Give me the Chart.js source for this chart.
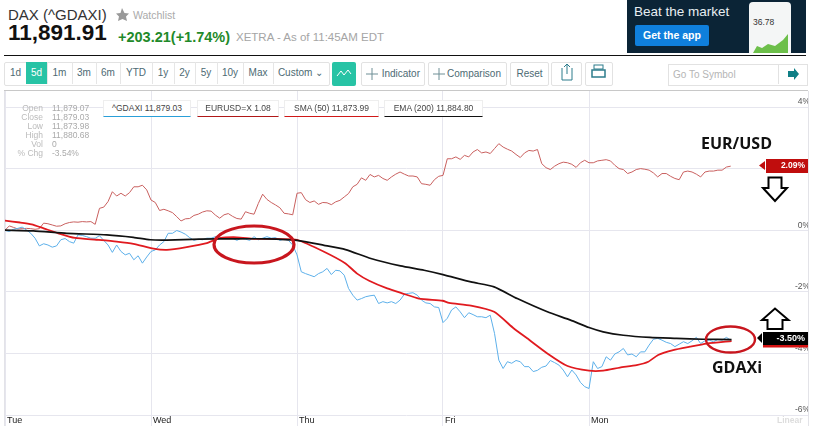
<!DOCTYPE html>
<html>
<head>
<meta charset="utf-8">
<script src="https://cdn.jsdelivr.net/npm/chart.js@4"></script>
<style>
html, body { margin: 0; padding: 0; background: #fff; overflow: hidden; }
body { width: 813px; height: 439px; position: relative; font-family: "Liberation Sans", Arial, sans-serif; }
.t { position: absolute; white-space: nowrap; line-height: 1; }
.btn { position: absolute; top: 62px; height: 22px; border: 1px solid #e2e2e2; border-radius: 2px; box-sizing: content-box;
  font-size: 10px; line-height: 22px; color: #4d6a73; text-align: center; background: #fff; }
.seg { position: absolute; top: 62px; height: 22px; border-right: 1px solid #e6e6e6; font-size: 10px; line-height: 22px; color: #4d6a73; text-align: center; }
.leg { position: absolute; top: 100px; height: 17px; background: #fff; border: 1px solid #eee; font-size: 8.5px; line-height: 15px; text-align: center; color: #444; box-sizing: border-box; }
.lab { position: absolute; width: 36px; text-align: right; left: 7px; font-size: 8.5px; color: #bbb; line-height: 9px; }
.val { position: absolute; left: 52px; font-size: 8.5px; color: #aaa; line-height: 9px; }
#plot { position: absolute; left: 5px; top: 91px; width: 803px; height: 339px; }
#overlay { position: absolute; left: 0; top: 0; pointer-events: none; }
</style>
</head>
<body>
<div class="t" style="left:8px;top:7px;font-size:15px;color:#333">DAX (^GDAXI)</div>
<div class="t" style="left:133px;top:10px;font-size:10.5px;color:#aaa">Watchlist</div>
<div class="t" style="left:8px;top:22px;font-size:22.5px;font-weight:bold;color:#111">11,891.91</div>
<div class="t" style="left:118px;top:30px;font-size:14.5px;font-weight:bold;color:#1f8a2a">+203.21(+1.74%)</div>
<div class="t" style="left:236px;top:32px;font-size:11.5px;color:#a5a5a5">XETRA - As of 11:45AM EDT</div>
<div style="position:absolute;left:4px;top:55px;width:802px;height:1px;background:#111"></div>

<div style="position:absolute;left:627px;top:0;width:179px;height:53px;background:#0b2436"></div>
<div class="t" style="left:634px;top:5px;font-size:13.5px;color:#e8eef2">Beat the market</div>
<div class="t" style="left:635px;top:25px;width:74px;height:21px;background:#0f7fdc;border-radius:2px;color:#fff;font-size:10.5px;font-weight:bold;line-height:21px;text-align:center">Get the app</div>
<div style="position:absolute;left:749px;top:2px;width:42px;height:51px;background:#f4f6f6;border-radius:4px 4px 0 0"></div>
<div class="t" style="left:753px;top:18px;font-size:8.5px;color:#333">36.78</div>

<div style="position:absolute;left:4px;top:62px;width:324px;height:22px;border:1px solid #e2e2e2;border-radius:2px"></div>
<div class="seg" style="left:5px;width:21px">1d</div>
<div class="seg" style="left:26px;width:21px;background:#27c3a5;color:#fff">5d</div>
<div class="seg" style="left:47px;width:25px">1m</div>
<div class="seg" style="left:72px;width:24px">3m</div>
<div class="seg" style="left:96px;width:24px">6m</div>
<div class="seg" style="left:120px;width:32px">YTD</div>
<div class="seg" style="left:152px;width:22px">1y</div>
<div class="seg" style="left:174px;width:21px">2y</div>
<div class="seg" style="left:195px;width:22px">5y</div>
<div class="seg" style="left:217px;width:26px">10y</div>
<div class="seg" style="left:243px;width:30px">Max</div>
<div class="seg" style="left:273px;width:55px;border-right:0">Custom &#8964;</div>
<div style="position:absolute;left:332px;top:62px;width:24px;height:24px;background:#27c3a5;border-radius:2px"></div>
<div class="btn" style="left:361px;width:62px;text-align:right"><span style="padding-right:4px">Indicator</span></div>
<div class="btn" style="left:428px;width:77px;text-align:right"><span style="padding-right:5px">Comparison</span></div>
<div class="btn" style="left:510px;width:37px">Reset</div>
<div class="btn" style="left:551px;width:29px"></div>
<div class="btn" style="left:585px;width:26px"></div>
<div style="position:absolute;left:668px;top:64px;width:138px;height:20px;border:1px solid #e2e2e2"></div>
<div style="position:absolute;left:778px;top:64px;width:1px;height:20px;background:#e2e2e2"></div>
<div class="t" style="left:673px;top:70px;font-size:10px;color:#b5b5b5">Go To Symbol</div>

<div style="position:absolute;left:4px;top:90px;width:804px;height:1px;background:#c8c8c8"></div>
<div style="position:absolute;left:4px;top:91px;width:1px;height:335px;background:#e3e3e8"></div>
<div style="position:absolute;left:808px;top:91px;width:1px;height:335px;background:#e3e3e8"></div>

<div id="plot"><canvas id="grafico" width="803" height="339"></canvas></div>

<div class="leg" style="left:103px;width:88px;border-bottom:1px solid #2a9fd8">^GDAXI 11,879.03</div>
<div class="leg" style="left:197px;width:82px;border-bottom:1px solid #b01818">EURUSD=X 1.08</div>
<div class="leg" style="left:284px;width:95px;border-bottom:1px solid #d01818">SMA (50) 11,873.99</div>
<div class="leg" style="left:384px;width:99px;border-bottom:1px solid #111">EMA (200) 11,884.80</div>

<div class="lab" style="top:104px">Open</div><div class="val" style="top:104px">11,879.07</div>
<div class="lab" style="top:113px">Close</div><div class="val" style="top:113px">11,879.03</div>
<div class="lab" style="top:122px">Low</div><div class="val" style="top:122px">11,873.98</div>
<div class="lab" style="top:131px">High</div><div class="val" style="top:131px">11,880.68</div>
<div class="lab" style="top:140px">Vol</div><div class="val" style="top:140px">0</div>
<div class="lab" style="top:149px">% Chg</div><div class="val" style="top:149px">-3.54%</div>

<div class="t" style="left:777px;top:416px;font-size:8.5px;font-weight:bold;color:#ddd">Linear</div>

<svg id="overlay" width="813" height="439" xmlns="http://www.w3.org/2000/svg">
  <polygon points="122,8 124.500,13 129,13.500 126,16.500 127,21 122.500,19 118,21 119,16.500 116,13.500 120.500,13" fill="#999"/>
  <polyline points="753,53 757,46 762,48 768,44 775,46 783,40 788,34 788,53" fill="#6cbf4a"/>
  <polyline points="337,76 341,71 344,75 348,70 351,74" fill="none" stroke="#fff" stroke-width="1"/>
  <path d="M366 74H378M372 68V80M433 74H445M439 68V80" stroke="#6f8f96" stroke-width="1" fill="none"/>
  <path d="M562 68V80H572V68M567 74V64M564 67L567 64L570 67" stroke="#2c7c8c" stroke-width="1" fill="none"/>
  <rect x="592" y="70" width="13" height="7" fill="none" stroke="#2c7c8c" stroke-width="1.500"/>
  <rect x="594" y="65" width="9" height="4" fill="none" stroke="#2c7c8c" stroke-width="1"/>
  <polygon points="788,71 794,71 794,68 799,74 794,80 794,77 788,77" fill="#0f7f86"/>

  <ellipse cx="254" cy="244.500" rx="40" ry="18.500" fill="none" stroke="#c8161e" stroke-width="3.200"/>
  <ellipse cx="730.500" cy="339.500" rx="24.500" ry="13" fill="none" stroke="#c8161e" stroke-width="2.400"/>

  <polygon points="768.500,177.500 781.500,177.500 781.500,188 787,188 775,201 763,188 768.500,188" fill="#fff" stroke="#000" stroke-width="2"/>
  <polygon points="767.500,329 782.500,329 782.500,320 788.500,320 775,308.500 762,320 767.500,320" fill="#fff" stroke="#000" stroke-width="2"/>

  <polygon points="759,165.500 765,161 765,170" fill="#c00d0d"/>
  <rect x="766" y="159" width="42" height="14" fill="#c00d0d"/>
  <polygon points="757,338 762,333 762,343" fill="#000"/>
  <rect x="763" y="332" width="45" height="13" fill="#000"/>
  <rect x="763" y="345" width="45" height="2.500" fill="#d41111"/>
</svg>

<div class="t" style="left:766px;top:161px;width:39px;text-align:right;font-size:8.5px;font-weight:bold;color:#fff">2.09%</div>
<div class="t" style="left:766px;top:334px;width:39px;text-align:right;font-size:9px;font-weight:bold;color:#fff">-3.50%</div>
<div class="t" style="left:701px;top:135px;font-family:'Open Sans',sans-serif;font-size:16px;font-weight:bold;color:#111">EUR/USD</div>
<div class="t" style="left:712px;top:359px;font-family:'Open Sans',sans-serif;font-size:16px;font-weight:bold;color:#111">GDAXi</div>

<script>
// one sample every quarter hour, 34 per session
const dias = ['Tue', 'Wed', 'Thu', 'Fri', 'Mon'];
const posDias = [0, 34, 68, 102, 136];
const ticksY = [-6, -4, -2, 0, 2, 4];

const eurUsd = [
  0.00, 0.14, 0.09, 0.04, 0.05, 0.06, 0.05, 0.03, 0.05, 0.23, 0.21, 0.17, 0.13, 0.14, 0.21, 0.25, 0.27,
  0.26, 0.28, 0.27, 0.28, 0.19, 0.71, 0.75, 0.93, 1.25, 1.11, 1.20, 1.11, 1.22, 1.41, 1.41, 1.46, 1.31,
  0.98, 0.90, 0.64, 0.68, 0.63, 0.57, 0.44, 0.30, 0.37, 0.38, 0.48, 0.52, 0.59, 0.63, 0.62, 0.49, 0.39,
  0.50, 0.54, 0.45, 0.38, 0.36, 0.60, 0.55, 0.52, 0.87, 1.17, 1.00, 0.90, 0.82, 0.73, 0.55, 0.53, 0.50,
  1.20, 1.22, 0.99, 0.90, 0.95, 0.84, 0.90, 0.89, 0.83, 0.92, 0.97, 1.08, 1.19, 1.41, 1.49, 1.70, 1.62,
  1.81, 1.73, 1.78, 1.68, 1.62, 1.73, 1.82, 1.89, 1.82, 1.76, 1.76, 1.73, 1.51, 1.49, 1.46, 1.64, 1.75,
  1.78, 2.32, 2.32, 2.38, 2.30, 2.43, 2.38, 2.54, 2.62, 2.51, 2.54, 2.49, 2.65, 2.81, 2.70, 2.63, 2.57,
  2.46, 2.36, 2.51, 2.59, 2.57, 2.62, 2.16, 2.03, 1.97, 2.08, 2.16, 2.21, 2.19, 2.14, 2.04, 2.19, 2.27,
  2.19, 2.19, 2.25, 2.27, 2.29, 2.25, 2.11, 2.00, 1.97, 1.84, 1.89, 1.97, 2.00, 1.98, 1.95, 1.86, 1.73,
  1.84, 1.84, 1.75, 1.68, 1.64, 1.89, 1.92, 1.89, 1.82, 1.73, 1.89, 1.92, 1.92, 1.95, 1.95, 2.05, 2.08
];

const gdaxi = [
  -0.01, -0.04, 0.03, 0.06, 0.10, 0.01, -0.10, -0.26, -0.51, -0.44, -0.48, -0.55, -0.51, -0.31, -0.27, -0.37, -0.42,
  -0.15, -0.17, -0.21, -0.26, -0.26, -0.18, -0.33, -0.48, -0.72, -0.48, -0.69, -0.80, -0.75, -0.96, -0.83, -1.07, -0.87,
  -0.69, -0.64, -0.48, -0.37, -0.10, -0.10, -0.01, -0.06, -0.13, -0.24, -0.33, -0.29, -0.31, -0.26, -0.26, -0.21, -0.24,
  -0.26, -0.26, -0.26, -0.33, -0.26, -0.29, -0.33, -0.21, -0.31, -0.26, -0.21, -0.26, -0.24, -0.33, -0.29, -0.33, -0.48,
  -0.80, -1.35, -1.41, -1.46, -1.51, -1.41, -1.35, -1.24, -1.44, -1.30, -1.32, -1.46, -1.89, -2.11, -2.27, -2.22, -2.16,
  -2.13, -2.11, -2.38, -2.32, -2.36, -2.32, -2.38, -2.27, -2.08, -2.05, -2.03, -2.11, -2.27, -2.36, -2.38, -2.49, -2.51,
  -3.00, -2.86, -2.59, -2.49, -2.65, -2.84, -2.68, -2.74, -2.81, -2.81, -2.84, -2.76, -3.35, -4.22, -4.49, -4.27, -4.32,
  -4.23, -4.27, -4.43, -4.43, -4.59, -4.55, -4.45, -4.41, -4.23, -4.30, -4.38, -4.54, -4.76, -4.54, -4.70, -4.94, -5.08,
  -5.14, -4.27, -4.49, -4.43, -4.11, -4.22, -4.02, -3.95, -3.84, -4.05, -4.02, -4.11, -3.95, -3.95, -3.73, -3.54, -3.51,
  -3.57, -3.64, -3.68, -3.78, -3.70, -3.62, -3.68, -3.59, -3.48, -3.68, -3.59, -3.57, -3.62, -3.55, -3.57, -3.48, -3.57
];

const smaPos = [0, 3.5, 6.2, 9, 12.4, 16.3, 21.3, 26, 29.9, 34.6, 37.7, 42.3, 47, 50, 54, 57.9, 61, 64.8, 68,
  74.3, 79.3, 82, 84.8, 89, 92.5, 96.4, 101.9, 103.4, 108.5, 113.9, 118.5, 121.6, 126.3, 131,
  136, 139.3, 143.2, 147.1, 149.8, 152.1, 155.6, 159.5, 163.4, 169.2];
const sma = [0.31, 0.25, 0.19, 0.06, -0.10, -0.25, -0.31, -0.37, -0.44, -0.60, -0.64, -0.55, -0.42, -0.26, -0.23, -0.28, -0.28, -0.29, -0.31,
  -0.70, -1.08, -1.41, -1.64, -1.89, -2.05, -2.22, -2.29, -2.36, -2.45, -2.65, -3.19, -3.51, -4.00, -4.41,
  -4.56, -4.56, -4.46, -4.38, -4.27, -4.05, -3.89, -3.78, -3.68, -3.60];

const emaPos = [0, 6.6, 14.4, 23.7, 29.9, 33.8, 37.7, 45.4, 53.2, 61, 68,
  74.3, 79.3, 85.2, 92.1, 97.6, 102, 108.5, 113.9, 119.3, 126.3, 131.7,
  136, 139.3, 144, 150.2, 156.4, 162.6, 169.2];
const ema = [0, -0.02, -0.10, -0.15, -0.23, -0.31, -0.32, -0.29, -0.28, -0.28, -0.33,
  -0.49, -0.63, -0.92, -1.16, -1.30, -1.44, -1.68, -1.84, -2.22, -2.65, -2.92,
  -3.16, -3.30, -3.41, -3.48, -3.51, -3.54, -3.55];

const pontos = (valores) => valores.map((v, i) => ({ x: i, y: v }));
const pontosPos = (pos, valores) => valores.map((v, i) => ({ x: pos[i], y: v }));

// the axes sit inside the plot, so they must not reserve any room around it
function semMargem(scale) {
  scale.paddingTop = 0;
  scale.paddingBottom = 0;
  scale.paddingLeft = 0;
  scale.paddingRight = 0;
}

const ctx = document.getElementById('grafico').getContext('2d');

const grafico = new Chart(ctx, {
  type: 'line',
  data: {
    datasets: [
      { label: 'EMA (200)', data: pontosPos(emaPos, ema), borderColor: '#111', borderWidth: 1.7, tension: 0.2 },
      { label: 'SMA (50)', data: pontosPos(smaPos, sma), borderColor: '#e01a1f', borderWidth: 1.8, tension: 0.2 },
      { label: '^GDAXI', data: pontos(gdaxi), borderColor: '#5db0ea', borderWidth: 1 },
      { label: 'EURUSD=X', data: pontos(eurUsd), borderColor: '#c9605f', borderWidth: 1 }
    ]
  },
  options: {
    responsive: false,
    animation: false,
    layout: { padding: 0 },
    elements: { point: { radius: 0 } },
    plugins: { legend: { display: false }, tooltip: { enabled: false } },
    scales: {
      x: {
        type: 'linear',
        min: 0,
        max: 187,
        afterBuildTicks(scale) { scale.ticks = posDias.map(v => ({ value: v })); },
        afterFit(scale) { scale.height = 15; semMargem(scale); },
        grid: { color: '#e6e6ee', tickLength: 11 },
        border: { display: false },
        ticks: {
          autoSkip: false,
          maxRotation: 0,
          align: 'start',
          labelOffset: 2,
          padding: -11,
          color: '#222',
          font: { family: 'Liberation Sans', size: 9 },
          callback: (v) => dias[posDias.indexOf(v)]
        }
      },
      y: {
        position: 'right',
        min: -6,
        max: 4.52,
        afterBuildTicks(scale) { scale.ticks = ticksY.map(v => ({ value: v })); },
        afterFit(scale) { scale.width = 0; semMargem(scale); },
        grid: { color: '#e6e6ee', drawTicks: false },
        border: { display: false },
        ticks: {
          mirror: true,
          padding: 2,
          labelOffset: -5,
          color: '#555',
          font: { family: 'Liberation Sans', size: 8.5 },
          callback: (v) => v + '%'
        }
      }
    }
  }
});
</script>
</body>
</html>
